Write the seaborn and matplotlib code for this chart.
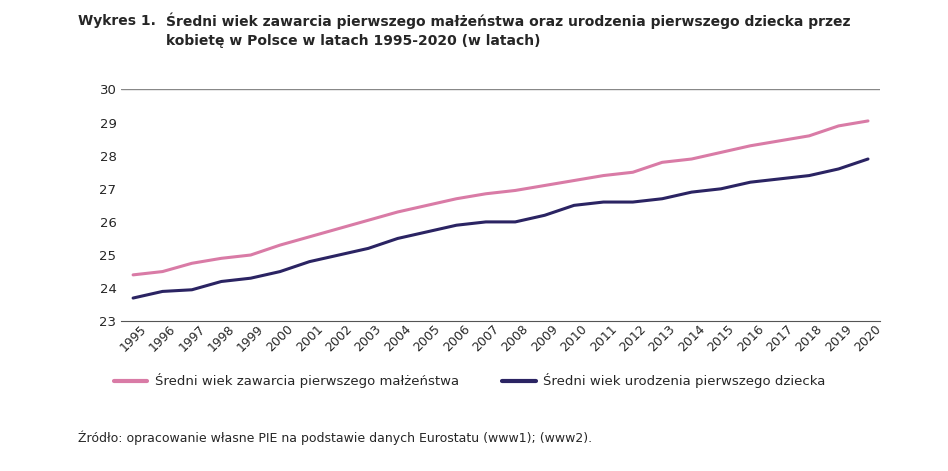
import matplotlib
matplotlib.use("Agg")
import matplotlib.pyplot as plt
import seaborn as sns
import pandas as pd

years = list(range(1995, 2021))
marriage = [24.4, 24.5, 24.75, 24.9, 25.0, 25.3, 25.55, 25.8, 26.05, 26.3, 26.5, 26.7, 26.85,
            26.95, 27.1, 27.25, 27.4, 27.5, 27.8, 27.9, 28.1, 28.3, 28.45, 28.6, 28.9, 29.05]
first_child = [23.7, 23.9, 23.95, 24.2, 24.3, 24.5, 24.8, 25.0, 25.2, 25.5, 25.7, 25.9, 26.0,
               26.0, 26.2, 26.5, 26.6, 26.6, 26.7, 26.9, 27.0, 27.2, 27.3, 27.4, 27.6, 27.9]
label_m = "Średni wiek zawarcia pierwszego małżeństwa"
label_c = "Średni wiek urodzenia pierwszego dziecka"

df = pd.DataFrame({"rok": years, label_m: marriage, label_c: first_child})
long = df.melt(id_vars="rok", var_name="seria", value_name="wiek")

sns.set_style("white")
plt.rcParams['font.family'] = ['DejaVu Sans']

fig = plt.figure(figsize=(9.48, 4.71), dpi=100)
ax = fig.add_axes([0.128, 0.318, 0.8, 0.492])
sns.lineplot(data=long, x="rok", y="wiek", hue="seria", ax=ax, linewidth=2.2,
             palette={label_m: "#d97ba6", label_c: "#2b2463"}, legend=False)

ax.set_xlim(1994.6, 2020.4)
ax.set_ylim(23, 30)
ax.set_yticks(range(23, 31))
ax.set_xticks(years)
ax.set_xticklabels([str(y) for y in years], rotation=45, fontsize=9)
ax.tick_params(axis='y', labelsize=9.5, length=0)
ax.tick_params(axis='x', length=0, pad=1)
ax.set_xlabel("")
ax.set_ylabel("")
for s in ["left", "right", "top"]:
    ax.spines[s].set_visible(False)
ax.spines["bottom"].set_color("#555555")
ax.axhline(30, color="#888888", linewidth=1)

# legend
fig.lines.append(plt.Line2D([0.12, 0.155], [0.192, 0.192], color="#d97ba6", lw=3, transform=fig.transFigure))
fig.text(0.163, 0.192, label_m, fontsize=9.5, va="center")
fig.lines.append(plt.Line2D([0.53, 0.565], [0.192, 0.192], color="#2b2463", lw=3, transform=fig.transFigure))
fig.text(0.573, 0.192, label_c, fontsize=9.5, va="center")

fig.text(0.082, 0.955, "Wykres 1.", fontsize=10, fontweight="bold", va="center")
fig.text(0.175, 0.955, "Średni wiek zawarcia pierwszego małżeństwa oraz urodzenia pierwszego dziecka przez",
         fontsize=10, fontweight="bold", va="center")
fig.text(0.175, 0.912, "kobietę w Polsce w latach 1995-2020 (w latach)", fontsize=10, fontweight="bold", va="center")
fig.text(0.082, 0.07, "Źródło: opracowanie własne PIE na podstawie danych Eurostatu (www1); (www2).",
         fontsize=9, va="center")

fig.savefig("out.png", dpi=100)
